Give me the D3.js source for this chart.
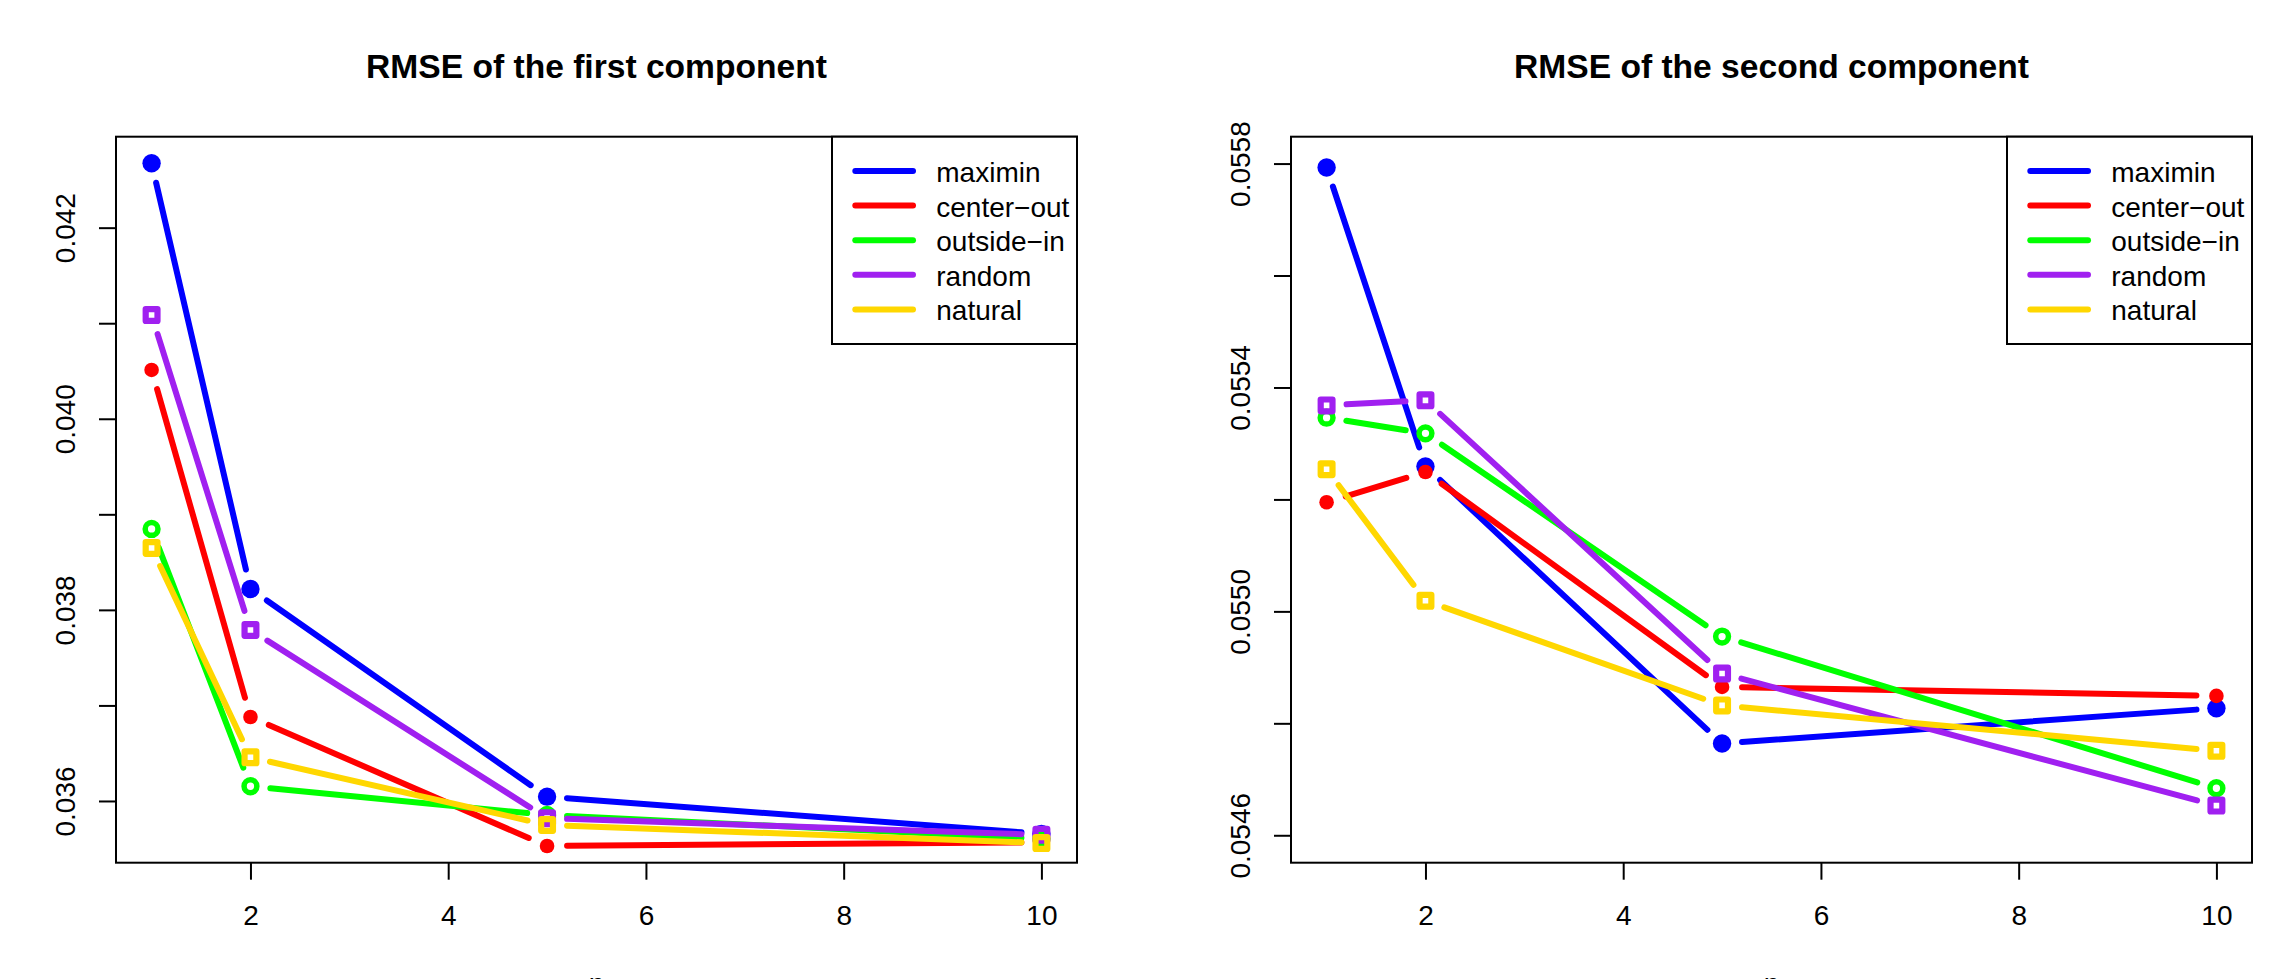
<!DOCTYPE html>
<html>
<head>
<meta charset="utf-8">
<script src="https://cdn.jsdelivr.net/npm/d3@7"></script>
<style>
    body { margin: 0; background: #fff; }
    svg { display: block; font-family: "Liberation Sans", Arial, Helvetica, sans-serif; }
</style>
</head>
<body>
<div id="chart"></div>
<script>
// data
const nValues = [1, 2, 5, 10];
const methodNames = ['maximin', 'center\u2212out', 'outside\u2212in', 'random', 'natural'];
const methodColors = ['#0000ff', '#ff0000', '#00ff00', '#a020f0', '#ffd700'];
const methodShapes = ['disc', 'dot', 'ring', 'square', 'square'];

const firstMaximin   = [0.042674, 0.038219, 0.036045, 0.035656];
const firstCenterOut = [0.040511, 0.036879, 0.035529, 0.035568];
const firstOutsideIn = [0.038847, 0.036154, 0.035853, 0.035604];
const firstRandom    = [0.041086, 0.037790, 0.035820, 0.035646];
const firstNatural   = [0.038648, 0.036457, 0.035749, 0.035560];

const secondMaximin   = [0.055793, 0.055259, 0.054764, 0.054827];
const secondCenterOut = [0.055195, 0.055249, 0.054865, 0.054849];
const secondOutsideIn = [0.055346, 0.055318, 0.054955, 0.054684];
const secondRandom    = [0.055368, 0.055377, 0.054889, 0.054653];
const secondNatural   = [0.055254, 0.055019, 0.054832, 0.054751];

const xTicks = [2, 4, 6, 8, 10];
const firstYTicks = [0.036, 0.037, 0.038, 0.039, 0.040, 0.041, 0.042];
const firstYLabels = ['0.036', '', '0.038', '', '0.040', '', '0.042'];
const secondYTicks = [0.0546, 0.0548, 0.0550, 0.0552, 0.0554, 0.0556, 0.0558];
const secondYLabels = ['0.0546', '', '0.0550', '', '0.0554', '', '0.0558'];

const xLimits = [0.64, 10.36];
const firstYLimits = [0.035354, 0.042952];
const secondYLimits = [0.054551, 0.055848];

const totalWidth = 2272;
const totalHeight = 979;
const plotWidth = 961;
const plotHeight = 726;
const plotTop = 136.7;

const svg = d3.select('#chart')
    .append('svg')
        .attr('width', totalWidth)
        .attr('height', totalHeight);

const drawPanel = (left, title, values, yLimits, yTicks, yLabels) => {
    const g = svg.append('g')
        .attr('transform', `translate(${left},${plotTop})`);

    const x = d3.scaleLinear().domain(xLimits).range([0, plotWidth]);
    const y = d3.scaleLinear().domain(yLimits).range([plotHeight, 0]);

    // title
    g.append('text')
        .attr('x', plotWidth / 2)
        .attr('y', 78.3 - plotTop)
        .attr('text-anchor', 'middle')
        .style('font-size', '33.6px')
        .style('font-weight', 'bold')
        .text(title);

    // x axis
    g.append('g')
        .attr('transform', `translate(0,${plotHeight})`)
        .call(d3.axisBottom(x).tickValues(xTicks).tickSize(17).tickFormat(d3.format('d')))
        .call(a => a.select('.domain').remove())
        .call(a => a.selectAll('line').attr('stroke', '#000').attr('stroke-width', 2))
        .call(a => a.selectAll('text')
            .attr('y', 62.3)
            .attr('dy', null)
            .attr('fill', '#000')
            .style('font-size', '28px')
            .style('font-family', null));

    // y axis
    g.append('g')
        .call(d3.axisLeft(y).tickValues(yTicks).tickSize(17).tickFormat((d, i) => yLabels[i]))
        .call(a => a.select('.domain').remove())
        .call(a => a.selectAll('line').attr('stroke', '#000').attr('stroke-width', 2))
        .call(a => a.selectAll('text')
            .attr('x', 0)
            .attr('dy', null)
            .attr('text-anchor', 'middle')
            .attr('transform', 'translate(-41,0) rotate(-90)')
            .attr('fill', '#000')
            .style('font-size', '28px')
            .style('font-family', null));

    // x axis label (mostly cut off at page bottom)
    g.append('text')
        .attr('x', plotWidth / 2)
        .attr('y', 993 - plotTop)
        .attr('text-anchor', 'middle')
        .attr('fill', '#000')
        .style('font-size', '28px')
        .text('n');

    // series: lines with gaps around the points, like type = "b"
    const gap = 20;
    values.forEach((series, s) => {
        const color = methodColors[s];
        const pts = series.map((v, i) => [x(nValues[i]), y(v)]);

        for (let i = 0; i < pts.length - 1; i++) {
            const [x0, y0] = pts[i];
            const [x1, y1] = pts[i + 1];
            const len = Math.hypot(x1 - x0, y1 - y0);
            if (len <= 2 * gap) continue;
            const ux = (x1 - x0) / len;
            const uy = (y1 - y0) / len;
            g.append('line')
                .attr('x1', x0 + ux * gap)
                .attr('y1', y0 + uy * gap)
                .attr('x2', x1 - ux * gap)
                .attr('y2', y1 - uy * gap)
                .attr('stroke', color)
                .attr('stroke-width', 6)
                .attr('stroke-linecap', 'round');
        }

        pts.forEach(([px, py]) => {
            const shape = methodShapes[s];
            if (shape === 'disc') {
                g.append('circle').attr('cx', px).attr('cy', py).attr('r', 9.2).attr('fill', color);
            } else if (shape === 'dot') {
                g.append('circle').attr('cx', px).attr('cy', py).attr('r', 7.3).attr('fill', color);
            } else if (shape === 'ring') {
                g.append('circle').attr('cx', px).attr('cy', py).attr('r', 6.4)
                    .attr('fill', 'none').attr('stroke', color).attr('stroke-width', 5.5);
            } else {
                g.append('rect')
                    .attr('x', px - 5.9).attr('y', py - 5.9)
                    .attr('width', 11.8).attr('height', 11.8)
                    .attr('fill', 'none').attr('stroke', color).attr('stroke-width', 6.2)
                    .attr('stroke-linejoin', 'round');
            }
        });
    });

    // frame
    g.append('rect')
        .attr('width', plotWidth)
        .attr('height', plotHeight)
        .attr('fill', 'none')
        .attr('stroke', '#000')
        .attr('stroke-width', 2);

    // legend, top right
    const legendWidth = 245;
    const legend = g.append('g')
        .attr('transform', `translate(${plotWidth - legendWidth},0)`);
    legend.append('rect')
        .attr('width', legendWidth)
        .attr('height', 207.3)
        .attr('fill', '#fff')
        .attr('stroke', '#000')
        .attr('stroke-width', 2);
    methodNames.forEach((name, i) => {
        const rowY = 34.3 + i * 34.6;
        legend.append('line')
            .attr('x1', 23.3)
            .attr('x2', 81)
            .attr('y1', rowY)
            .attr('y2', rowY)
            .attr('stroke', methodColors[i])
            .attr('stroke-width', 6)
            .attr('stroke-linecap', 'round');
        legend.append('text')
            .attr('x', 104.3)
            .attr('y', rowY + 11)
            .style('font-size', '28px')
            .text(name);
    });
};

drawPanel(116, 'RMSE of the first component',
    [firstMaximin, firstCenterOut, firstOutsideIn, firstRandom, firstNatural],
    firstYLimits, firstYTicks, firstYLabels);

drawPanel(1291, 'RMSE of the second component',
    [secondMaximin, secondCenterOut, secondOutsideIn, secondRandom, secondNatural],
    secondYLimits, secondYTicks, secondYLabels);
</script>
</body>
</html>
